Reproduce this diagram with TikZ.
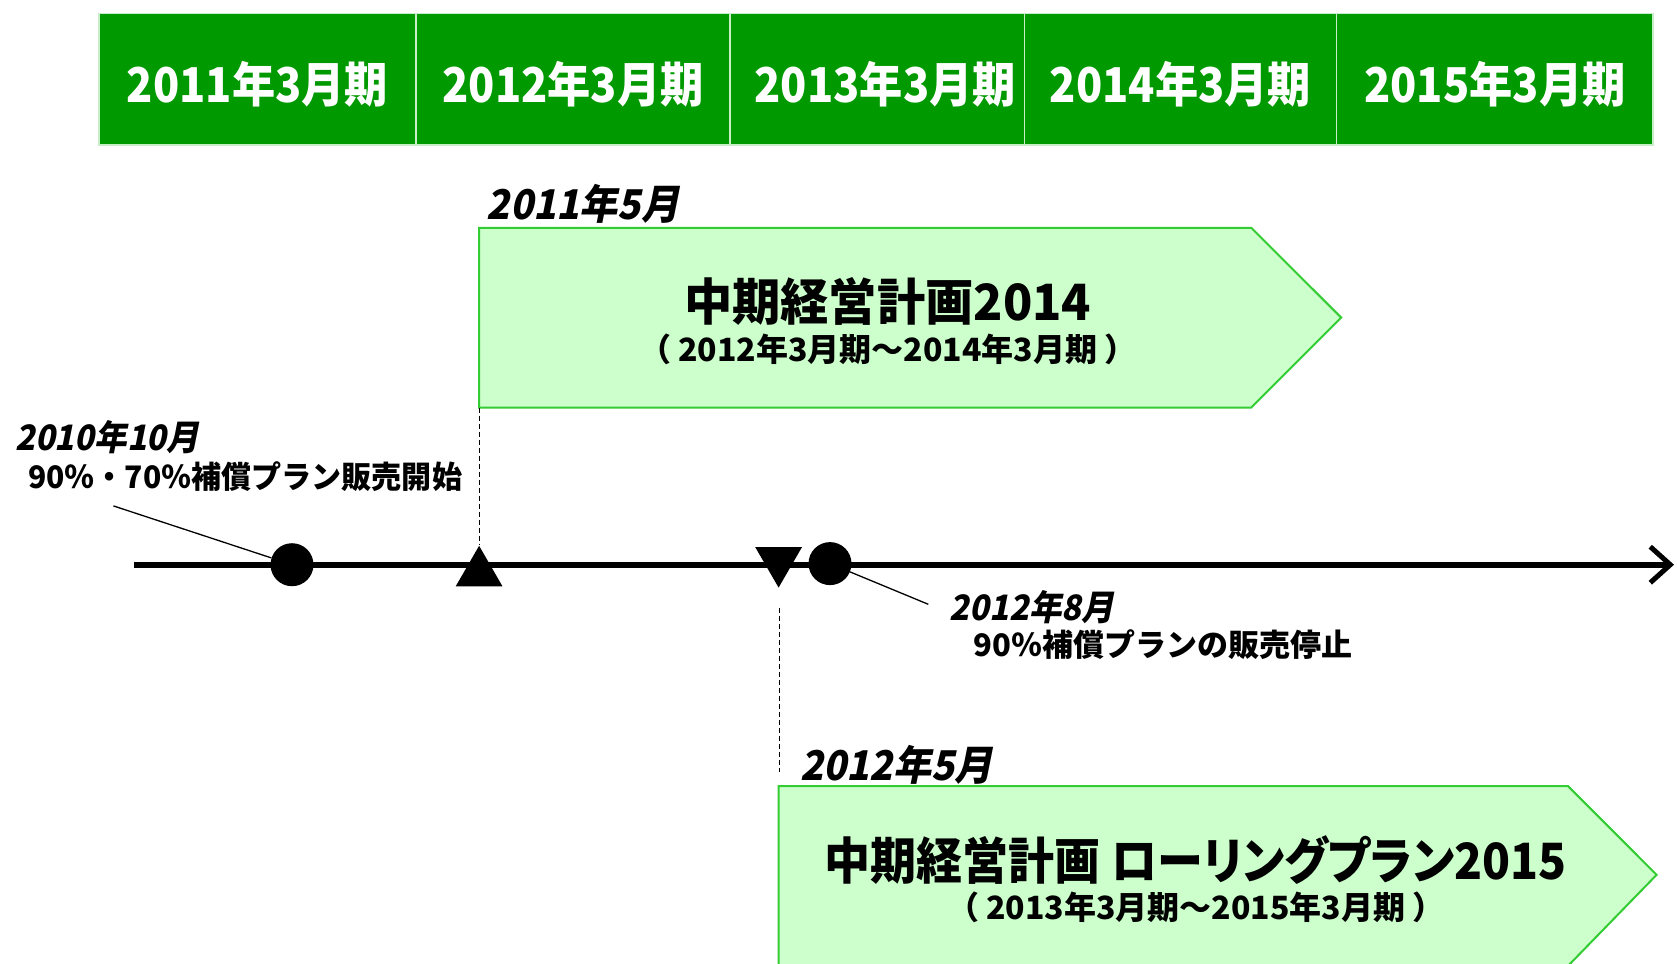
\documentclass[tikz,border=0pt]{standalone}
\usepackage{fontspec}
\usetikzlibrary{arrows.meta,shapes.geometric}
\newfontfamily\jp{Noto Sans CJK JP}
\newfontfamily\jphdr{Noto Sans CJK JP}[FakeStretch=0.9]
\newfontfamily\jpp{Noto Sans CJK JP}[RawFeature=+palt]
\newfontfamily\jpi{Noto Sans CJK JP}[FakeSlant=0.2,FakeStretch=0.93]
\definecolor{hdrgreen}{RGB}{0,153,0}
\definecolor{planfill}{RGB}{204,255,204}
\definecolor{planline}{RGB}{51,204,51}
\definecolor{hdrline}{RGB}{200,238,200}
\tikzset{
  hdr/.style={draw=hdrline, line width=1.5pt, fill=hdrgreen, minimum height=131.6pt,
    inner sep=0pt, anchor=north west},
  hdrtext/.style={inner sep=0pt, anchor=base, text=white, font=\jphdr\bfseries\fontsize{48}{52}\selectfont},
  plan/.style={draw=planline, line width=2pt, fill=planfill},
  ptitle/.style={inner sep=0pt, anchor=base, font=\jpp\bfseries\fontsize{50}{56}\selectfont},
  psub/.style={inner sep=0pt, anchor=base, font=\jp\bfseries\fontsize{32}{36}\selectfont},
  datebig/.style={inner sep=0pt, anchor=base west, font=\jpi\bfseries\fontsize{41}{46}\selectfont},
  datesmall/.style={inner sep=0pt, anchor=base west, font=\jpi\bfseries\fontsize{35}{40}\selectfont},
  event/.style={inner sep=0pt, anchor=base west, font=\jp\bfseries\fontsize{31}{36}\selectfont},
  axisline/.style={line width=6pt, -{Straight Barb[length=20pt,width=36pt,line width=5pt]}},
  dot/.style={circle, fill=black, minimum size=43pt, inner sep=0pt},
  tri/.style={regular polygon, regular polygon sides=3, fill=black, minimum size=54pt, inner sep=0pt},
  dashline/.style={line width=1pt, dash pattern=on 5pt off 3pt},
  leader/.style={line width=1.3pt},
}
\begin{document}
\begin{tikzpicture}[x=1pt,y=-1pt]
\useasboundingbox[fill=white] (0,0) rectangle (1677,963);

% header
\node[hdr, minimum width=316.6pt] (h1) at (98.4,12.8) {};
\node[hdr, minimum width=314.4pt] (h2) at (415,12.8) {};
\node[hdr, minimum width=294.1pt] (h3) at (729.4,12.8) {};
\node[hdr, minimum width=312.3pt] (h4) at (1023.5,12.8) {};
\node[hdr, minimum width=316.6pt] (h5) at (1335.8,12.8) {};
\node[hdrtext] (h1t) at ([yshift=-23pt]h1.center) {2011年3月期};
\node[hdrtext] (h2t) at ([yshift=-23pt]h2.center) {2012年3月期};
\node[hdrtext] (h3t) at ([xshift=8pt,yshift=-23pt]h3.center) {2013年3月期};
\node[hdrtext] (h4t) at ([yshift=-23pt]h4.center) {2014年3月期};
\node[hdrtext] (h5t) at ([yshift=-23pt]h5.center) {2015年3月期};

% plan 2014
\node[datebig] (d1) at (486.6,219) {2011年5月};
\draw[plan] (479.1,227.8) -- (1251.3,227.8) -- (1341.2,317.6) -- (1251.3,407.5) -- (479.1,407.5) -- cycle;
\coordinate (p1bl) at (479.1,407.5);
\node[ptitle] (p1t) at (887.7,320.5) {\addfontfeature{FakeStretch=0.965}中期経営計画2014};
\node[psub] (p1s) at (887.7,361.5) {（\hspace{7pt}2012年3月期～2014年3月期\hspace{7pt}）};

% plan 2015
\node[datebig] (d2) at (800,780.5) {2012年5月};
\draw[plan] (778.6,786) -- (1567.9,786) -- (1656.6,874.8) -- (1567.9,966) -- (778.6,966) -- cycle;
\node[ptitle] (p2t) at (1195.7,879) {\addfontfeature{FakeStretch=0.92}中期経営計画 ローリングプラン2015};
\node[psub] (p2s) at (1195.7,919.5) {（\hspace{7pt}2013年3月期～2015年3月期\hspace{7pt}）};

% axis
\coordinate (ax0) at (133.7,564.7);
\coordinate (ax1) at (1674,564.7);
\draw[axisline] (ax0) -- (ax1);

\node[dot] (c1) at (292,564.7) {};
\node[dot] (c2) at (830,563.6) {};
\node[tri, anchor=corner 1] (t1) at (479.1,545.4) {};
\node[tri, shape border rotate=180, anchor=corner 1] (t2) at (778.6,588) {};

% dashed connectors
\draw[dashline] (p1bl) -- (t1.corner 1);
\coordinate (d2a) at (779.6,607.5);
\coordinate (d2b) at (779.6,772);
\draw[dashline] (d2a) -- (d2b);

% events
\node[datesmall] (e1d) at (15,450) {2010年10月};
\node[event] (e1) at (27.8,488.8) {\addfontfeature{FakeStretch=0.97}90％・70％補償プラン販売開始};
\coordinate (l1) at (113.4,505.9);
\draw[leader] (l1) -- (c1);

\node[datesmall] (e2d) at (949.7,620) {2012年8月};
\node[event] (e2) at (973.2,656.5) {90％補償プランの販売停止};
\coordinate (l2) at (928.3,604.3);
\draw[leader] (c2) -- (l2);
\end{tikzpicture}
\end{document}
